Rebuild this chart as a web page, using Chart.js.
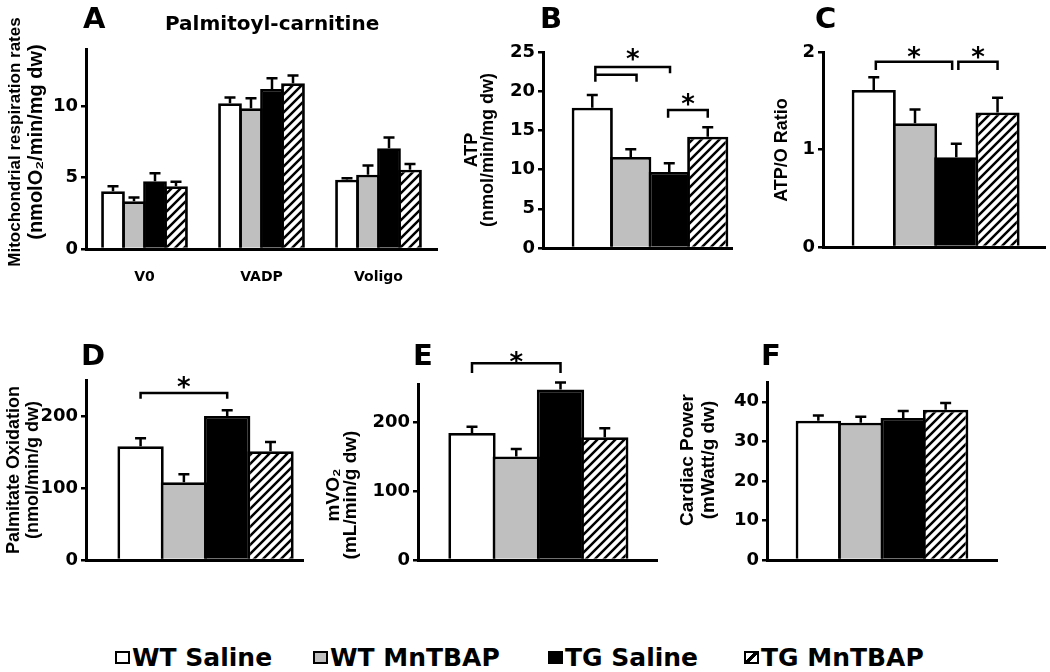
<!DOCTYPE html>
<html>
<head>
<meta charset="utf-8">
<script src="https://cdn.jsdelivr.net/npm/chart.js@4.4.0/dist/chart.umd.min.js"></script>
<style>
  body { margin: 0; background: #fff; }
  #fig { position: relative; width: 1050px; height: 672px; overflow: hidden; background: #fff;
         font-family: "DejaVu Sans", sans-serif; font-weight: bold; color: #000; }
  #fig canvas { position: absolute; }
  .txt { position: absolute; white-space: nowrap; }
  .letter { font-size: 29px; line-height: 29px; }
  .subtitle { font-size: 20px; line-height: 20px; }
  #legend { position: absolute; left: 0; top: 645px; width: 1050px; height: 25px;
            font-size: 25px; line-height: 25px; }
  #legend .item { position: absolute; top: 0; display: flex; align-items: center; white-space: nowrap; }
  #legend .item:nth-child(1) { left: 115px; }
  #legend .item:nth-child(2) { left: 313px; }
  #legend .item:nth-child(3) { left: 548px; }
  #legend .item:nth-child(4) { left: 744px; }
  #legend .sw { width: 15px; height: 13px; box-sizing: border-box; border: 2.5px solid #000; margin-right: 2px; }
</style>
</head>
<body>
<div id="fig">
  <canvas id="cA" width="445" height="300" style="left:0;top:0"></canvas>
  <canvas id="cB" width="290" height="300" style="left:445px;top:0"></canvas>
  <canvas id="cC" width="315" height="300" style="left:735px;top:0"></canvas>
  <canvas id="cD" width="305" height="300" style="left:0;top:300px"></canvas>
  <canvas id="cE" width="355" height="300" style="left:305px;top:300px"></canvas>
  <canvas id="cF" width="390" height="300" style="left:660px;top:300px"></canvas>

  <div class="txt letter" style="left:83px;top:4px">A</div>
  <div class="txt subtitle" style="left:165px;top:13px">Palmitoyl-carnitine</div>
  <div class="txt letter" style="left:540px;top:4px">B</div>
  <div class="txt letter" style="left:815px;top:4px">C</div>
  <div class="txt letter" style="left:81px;top:341px">D</div>
  <div class="txt letter" style="left:413px;top:341px">E</div>
  <div class="txt letter" style="left:761px;top:341px">F</div>

  <div id="legend"></div>
</div>

<script>
// groups (one colour / fill each)
const groups = ['WT Saline', 'WT MnTBAP', 'TG Saline', 'TG MnTBAP'];

// A: mitochondrial respiration, palmitoyl-carnitine
const respStates = ['V0', 'VADP', 'Voligo'];
const respWtSaline = [4.05, 10.2, 4.85];
const respWtMntbap = [3.35, 9.85, 5.2];
const respTgSaline = [4.75, 11.2, 7.05];
const respTgMntbap = [4.4, 11.6, 5.55];
const respWtSalineErr = [0.35, 0.4, 0.1];
const respWtMntbapErr = [0.25, 0.7, 0.65];
const respTgSalineErr = [0.55, 0.75, 0.75];
const respTgMntbapErr = [0.3, 0.55, 0.4];
const respTicks = [0, 5, 10];

// B: ATP
const atp = [17.9, 11.6, 9.7, 14.2];
const atpErr = [1.6, 1.0, 1.1, 1.2];
const atpTicks = [0, 5, 10, 15, 20, 25];

// C: ATP/O ratio
const atpO = [1.61, 1.27, 0.92, 1.38];
const atpOErr = [0.13, 0.14, 0.14, 0.15];
const atpOTicks = [0, 1, 2];

// D: palmitate oxidation
const palmOx = [158, 108, 200, 151];
const palmOxErr = [11, 11, 8, 13];
const palmOxTicks = [0, 100, 200];

// E: mVO2
const mvo2 = [184, 150, 247, 178];
const mvo2Err = [9, 11, 10, 13];
const mvo2Ticks = [0, 100, 200];

// F: cardiac power
const power = [35.2, 34.7, 35.9, 38.0];
const powerErr = [1.3, 1.5, 1.8, 1.7];
const powerTicks = [0, 10, 20, 30, 40];

// significance brackets, in data units (x = group index)
const atpBrackets = [
  { x0: 0.08, x1: 2.02, y: 23.1, y0: 21.2, y1: 22.3, star: 24.7 },
  { x0: 0.08, x1: 1.15, y: 22.1, y0: 22.1, y1: 21.2 },
  { x0: 1.97, x1: 3.0, y: 17.6, y0: 16.6, y1: 16.6, star: 19.0 }
];
const atpOBrackets = [
  { x0: 0.05, x1: 1.9, y: 1.9, y0: 1.815, y1: 1.815, star: 2.0 },
  { x0: 2.05, x1: 3.0, y: 1.9, y0: 1.815, y1: 1.815, star: 2.0 }
];
const palmOxBrackets = [{ x0: 0, x1: 2, y: 232, y0: 224, y1: 224, star: 246 }];
const mvo2Brackets = [{ x0: 0, x1: 2, y: 285, y0: 271, y1: 271, star: 294 }];

Chart.defaults.font.family = '"DejaVu Sans", sans-serif';
Chart.defaults.font.weight = 'bold';
Chart.defaults.color = '#000';

function makeHatch() {
  const s = 9;
  const c = document.createElement('canvas');
  c.width = s; c.height = s;
  const g = c.getContext('2d');
  g.fillStyle = '#fff';
  g.fillRect(0, 0, s, s);
  g.strokeStyle = '#000';
  g.lineWidth = 2.5;
  g.beginPath();
  g.moveTo(-1, s + 1); g.lineTo(s + 1, -1);
  g.moveTo(-1, 1); g.lineTo(1, -1);
  g.moveTo(s - 1, s + 1); g.lineTo(s + 1, s - 1);
  g.stroke();
  return g.createPattern(c, 'repeat');
}
const fills = ['#ffffff', '#bfbfbf', '#000000', makeHatch()];

// upward error bars with a cap
const errorBars = {
  id: 'errorBars',
  afterDatasetsDraw(chart) {
    const { ctx } = chart;
    const y = chart.scales.y;
    ctx.save();
    ctx.strokeStyle = '#000';
    ctx.lineWidth = 2.5;
    chart.data.datasets.forEach((ds, di) => {
      const meta = chart.getDatasetMeta(di);
      meta.data.forEach((bar, i) => {
        const v = meta.controller.getParsed(i).y;
        const top = y.getPixelForValue(v + ds.errors[i]);
        ctx.beginPath();
        ctx.moveTo(bar.x, bar.y);
        ctx.lineTo(bar.x, top);
        ctx.moveTo(bar.x - 5.5, top);
        ctx.lineTo(bar.x + 5.5, top);
        ctx.stroke();
      });
    });
    ctx.restore();
  }
};

function bracketPlugin(items) {
  return {
    id: 'brackets',
    afterDraw(chart) {
      const { ctx, scales: { x, y } } = chart;
      ctx.save();
      ctx.strokeStyle = '#000';
      ctx.fillStyle = '#000';
      ctx.lineWidth = 2.5;
      items.forEach(b => {
        const px0 = x.getPixelForValue(b.x0);
        const px1 = x.getPixelForValue(b.x1);
        const py = y.getPixelForValue(b.y);
        ctx.beginPath();
        ctx.moveTo(px0, y.getPixelForValue(b.y0));
        ctx.lineTo(px0, py);
        ctx.lineTo(px1, py);
        ctx.lineTo(px1, y.getPixelForValue(b.y1));
        ctx.stroke();
        if (b.star != null) {
          ctx.font = 'bold 26px "DejaVu Sans"';
          ctx.textAlign = 'center';
          ctx.textBaseline = 'alphabetic';
          const m = ctx.measureText('*');
          const cy = y.getPixelForValue(b.star);
          ctx.fillText('*', (px0 + px1) / 2, cy + (m.actualBoundingBoxAscent - m.actualBoundingBoxDescent) / 2);
        }
      });
      ctx.restore();
    }
  };
}

// rotated y-axis title, lines stacked left to right
function sideTitlePlugin(t) {
  return {
    id: 'sideTitle',
    afterDraw(chart) {
      const { ctx } = chart;
      ctx.save();
      ctx.fillStyle = '#000';
      ctx.textAlign = 'center';
      ctx.textBaseline = 'middle';
      t.lines.forEach((line, i) => {
        const size = Array.isArray(t.size) ? t.size[i] : t.size;
        ctx.font = `bold ${size}px "Liberation Sans", Arial, sans-serif`;
        ctx.save();
        ctx.translate(t.x + i * (t.gap || 0), t.y);
        ctx.rotate(-Math.PI / 2);
        ctx.fillText(line, 0, 0);
        ctx.restore();
      });
      ctx.restore();
    }
  };
}

function yScale(p) {
  return {
    min: 0,
    max: p.yMax,
    afterBuildTicks: s => { s.ticks = p.yTicks.map(v => ({ value: v })); },
    afterFit: s => { s.width = p.axisLeft; },
    border: { display: true, color: '#000', width: 3 },
    grid: { drawOnChartArea: false, drawTicks: true, tickLength: 5, color: '#000', lineWidth: 2.5 },
    ticks: { color: '#000', padding: 3, font: { size: 18, weight: 'bold' } }
  };
}

function baseOptions(p, xScale) {
  return {
    responsive: false,
    animation: false,
    layout: { padding: { top: p.top, right: p.right, left: 0, bottom: 0 } },
    plugins: { legend: { display: false }, tooltip: { enabled: false } },
    scales: { x: xScale, y: yScale(p) }
  };
}

// panel A: grouped bars by respiration state
const respSeries = [respWtSaline, respWtMntbap, respTgSaline, respTgMntbap];
const respErrors = [respWtSalineErr, respWtMntbapErr, respTgSalineErr, respTgMntbapErr];
const pA = { yMax: 14, yTicks: respTicks, axisLeft: 86, top: 49, right: 8 };
new Chart(document.getElementById('cA'), {
  type: 'bar',
  data: {
    labels: respStates,
    datasets: groups.map((g, i) => ({
      label: g,
      data: respSeries[i],
      errors: respErrors[i],
      backgroundColor: fills[i],
      borderColor: '#000',
      borderWidth: 2.8,
      categoryPercentage: 0.718,
      barPercentage: 1.13
    }))
  },
  options: baseOptions(pA, {
    z: 1,
    afterFit: s => { s.height = 51; },
    border: { display: true, color: '#000', width: 3 },
    grid: { display: false, drawTicks: false },
    ticks: { color: '#000', padding: 20, font: { size: 14, weight: 'bold' } }
  }),
  plugins: [errorBars, sideTitlePlugin({
    lines: ['Mitochondrial respiration rates', '(nmolO\u2082/min/mg dw)'],
    size: [17, 20], x: 15, gap: 21, y: 142
  })]
});

// panels B-F: one bar per group on a linear index axis
function groupPanel(id, p) {
  new Chart(document.getElementById(id), {
    type: 'bar',
    data: {
      datasets: [{
        data: p.values.map((v, i) => ({ x: i, y: v })),
        errors: p.errors,
        backgroundColor: fills,
        borderColor: '#000',
        borderWidth: 2.8,
        categoryPercentage: 1,
        barPercentage: 1.07
      }]
    },
    options: baseOptions(p, {
      type: 'linear',
      offset: false,
      min: p.xMin,
      max: p.xMax,
      z: 1,
      afterBuildTicks: s => { s.ticks = groups.map((g, i) => ({ value: i })); },
      afterFit: s => { s.height = p.xHeight; },
      border: { display: true, color: '#000', width: 3 },
      grid: { display: false, drawTicks: false },
      ticks: { display: false }
    }),
    plugins: [errorBars, bracketPlugin(p.brackets || []), sideTitlePlugin(p.title)]
  });
}

groupPanel('cB', {
  values: atp, errors: atpErr, yMax: 25, yTicks: atpTicks, brackets: atpBrackets,
  xMin: -1.28, xMax: 3.63, axisLeft: 98, top: 52, right: 3, xHeight: 52,
  title: { lines: ['ATP', '(nmol/min/mg dw)'], size: 18, x: 27, gap: 16, y: 150 }
});
groupPanel('cC', {
  values: atpO, errors: atpOErr, yMax: 2, yTicks: atpOTicks, brackets: atpOBrackets,
  xMin: -1.23, xMax: 4.15, axisLeft: 88, top: 52, right: 5, xHeight: 53,
  title: { lines: ['ATP/O Ratio'], size: 18, x: 47, y: 150 }
});
groupPanel('cD', {
  values: palmOx, errors: palmOxErr, yMax: 250, yTicks: palmOxTicks, brackets: palmOxBrackets,
  xMin: -1.26, xMax: 3.75, axisLeft: 86, top: 80, right: 2, xHeight: 40,
  title: { lines: ['Palmitate Oxidation', '(nmol/min/g dw)'], size: 18, x: 14, gap: 19.5, y: 170 }
});
groupPanel('cE', {
  values: mvo2, errors: mvo2Err, yMax: 255, yTicks: mvo2Ticks, brackets: mvo2Brackets,
  xMin: -1.22, xMax: 4.18, axisLeft: 113, top: 84, right: 3, xHeight: 40,
  title: { lines: ['mVO\u2082', '(mL/min/g dw)'], size: 19, x: 29, gap: 17, y: 195 }
});
groupPanel('cF', {
  values: power, errors: powerErr, yMax: 45, yTicks: powerTicks,
  xMin: -1.21, xMax: 4.21, axisLeft: 107, top: 82, right: 53, xHeight: 40,
  title: { lines: ['Cardiac Power', '(mWatt/g dw)'], size: 19, x: 27.5, gap: 21, y: 160 }
});

// legend
const swatchBg = ['#fff', '#bfbfbf', '#000',
  'linear-gradient(135deg, #fff 38%, #000 38%, #000 62%, #fff 62%)'];
const legend = document.getElementById('legend');
groups.forEach((g, i) => {
  const item = document.createElement('div');
  item.className = 'item';
  const sw = document.createElement('span');
  sw.className = 'sw';
  sw.style.background = swatchBg[i];
  const label = document.createElement('span');
  label.textContent = g;
  item.appendChild(sw);
  item.appendChild(label);
  legend.appendChild(item);
});
</script>
</body>
</html>
